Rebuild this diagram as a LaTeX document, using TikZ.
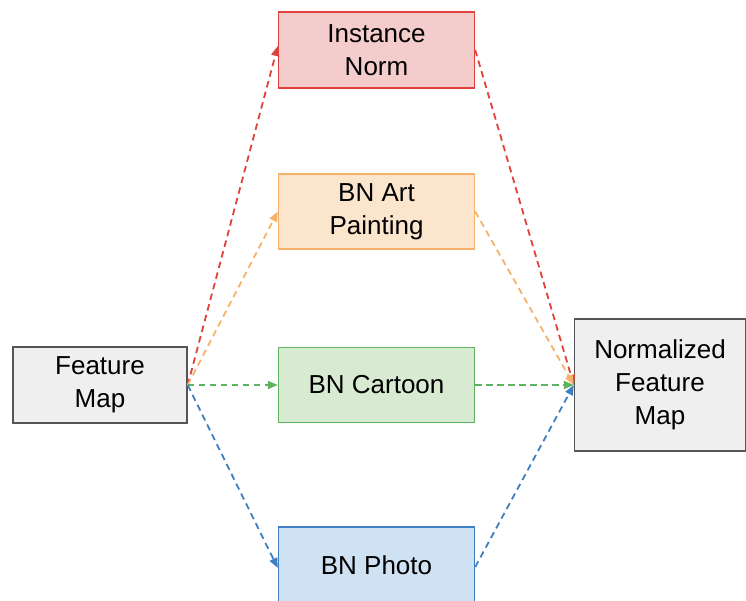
\documentclass[tikz,border=0pt]{standalone}
\usepackage{fontspec}
\setmainfont{Liberation Sans}
\usetikzlibrary{arrows.meta}
\definecolor{redfill}{HTML}{F4CCCC}
\definecolor{redline}{HTML}{E0413A}
\definecolor{orgfill}{HTML}{FCE5CD}
\definecolor{orgline}{HTML}{F6B26B}
\definecolor{grnfill}{HTML}{D9EAD3}
\definecolor{grnline}{HTML}{5DB35F}
\definecolor{blufill}{HTML}{CFE2F3}
\definecolor{bluline}{HTML}{3D7FC1}
\definecolor{gryfill}{HTML}{EFEFEF}
\definecolor{gryline}{HTML}{555555}
\tikzset{
  x=1pt, y=-1pt,
  box/.style={draw, line width=1.4pt, minimum width=196pt, minimum height=75pt,
    align=center, inner sep=0pt, font=\fontsize{26}{33}\selectfont},
  link/.style={line width=1.8pt, dash pattern=on 6.5pt off 4.5pt,
    -{Triangle[length=10pt,width=8pt]}}
}
\begin{document}
\begin{tikzpicture}
\useasboundingbox (0,0) rectangle (746,600);
% normalisation branches
\node[box, fill=redfill, draw=redline, minimum height=76pt] (inorm) at (376.5,50) {Instance\\Norm};
\node[box, fill=orgfill, draw=orgline] (art) at (376.5,211.5) {BN Art\\Painting};
\node[box, fill=grnfill, draw=grnline] (cart) at (376.5,385) {BN Cartoon};
\node[box, fill=blufill, draw=bluline, minimum height=76pt] (photo) at (376.5,565) {BN Photo};
% input and output
\node[box, fill=gryfill, draw=gryline, minimum width=174pt, minimum height=76pt] (fmap) at (100,385) {Feature\\Map};
\node[box, fill=gryfill, draw=gryline, minimum width=171pt, minimum height=132pt] (nfm) at (660,385) {Normalized\\Feature\\Map};
% routes into the branches
\draw[link, redline] (fmap.east) -- ([yshift=4pt]inorm.west);
\draw[link, orgline] (fmap.east) -- (art.west);
\draw[link, grnline] (fmap.east) -- (cart.west);
\draw[link, bluline] (fmap.east) -- ([yshift=-3pt]photo.west);
% routes out of the branches
\draw[link, redline] (inorm.east) -- (nfm.west);
\draw[link, orgline] (art.east) -- (nfm.west);
\draw[link, grnline] (cart.east) -- (nfm.west);
\draw[link, bluline] ([yshift=-2pt]photo.east) -- (nfm.west);
\end{tikzpicture}
\end{document}
